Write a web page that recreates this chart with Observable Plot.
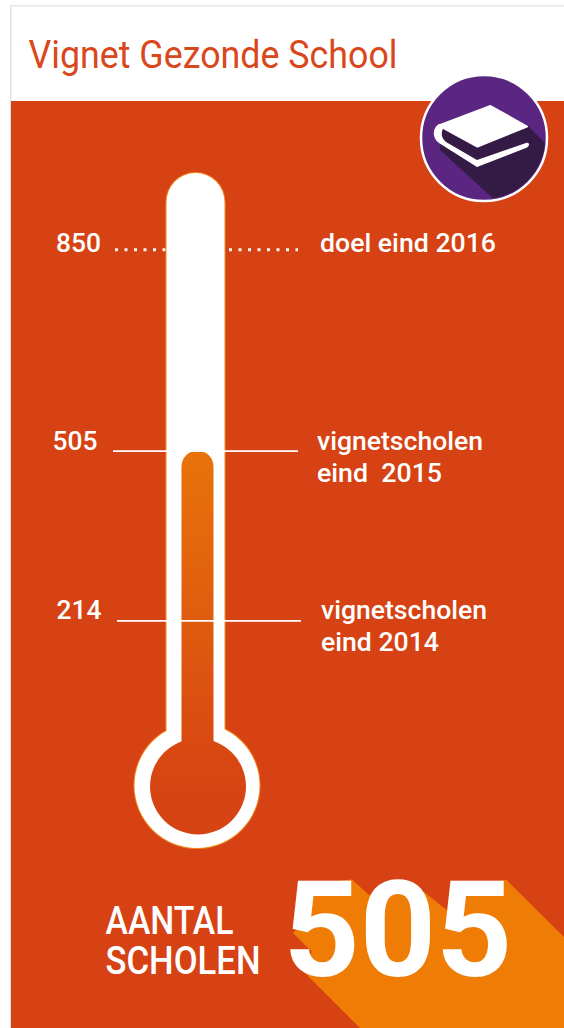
<!DOCTYPE html>
<html>
<head>
<meta charset="utf-8">
<script src="https://cdn.jsdelivr.net/npm/d3@7"></script>
<script src="https://cdn.jsdelivr.net/npm/@observablehq/plot@0.6"></script>
<style>
html,body{margin:0;padding:0;background:#fff;}
svg{display:block;}
</style>
</head>
<body>
<div id="chart"></div>
<script>
const title = "Vignet Gezonde School";
const levelValues = [850, 505, 214];
const levelLabels = ["850", "505", "214"];
const levelNotes = [["doel eind 2016"], ["vignetscholen", "eind  2015"], ["vignetscholen", "eind 2014"]];
const currentValue = 505;
const totalLabel = ["AANTAL", "SCHOLEN"];

const W = 564, H = 1028;
// linear value scale of the thermometer, read from the three marked levels
const pxPerUnit = 0.5835, y850 = 249.3;
const yv = p => 850 - (p - y850) / pxPerUnit;

const bg = "#D64214", amber = "#EF7D05", purple = "#5A2681", dark = "#341B46", white = "#fff";

const rows = levelValues.map((v, i) => ({v, label: levelLabels[i], note: levelNotes[i]}));
const layout = [
  {x1: 115, x2: 298, lx: 100.5, nx: 319.5, base: 251, lineGap: 0},
  {x1: 113, x2: 298, lx: 97, nx: 316.5, base: 449, lineGap: 32},
  {x1: 117, x2: 301, lx: 101, nx: 320.5, base: 618, lineGap: 32}
];

function poly(g, pts, fill) {
  return g.append("path").attr("d", "M" + pts.map(p => p.join(",")).join("L") + "Z").attr("fill", fill);
}

function backdrop() {
  const svg = d3.create("svg:g");
  const defs = svg.append("defs");
  const grad = defs.append("linearGradient").attr("id", "fillGrad").attr("gradientUnits", "userSpaceOnUse")
    .attr("x1", 0).attr("x2", 0).attr("y1", 451).attr("y2", 745);
  grad.append("stop").attr("offset", 0).attr("stop-color", "#E8730A");
  grad.append("stop").attr("offset", 1).attr("stop-color", "#D94A12");
  defs.append("clipPath").attr("id", "badgeClip").append("circle").attr("cx", 484).attr("cy", 138).attr("r", 61);
  const grad2 = defs.append("linearGradient").attr("id", "bulbGrad").attr("x1", 0).attr("x2", 0).attr("y1", 0).attr("y2", 1);
  grad2.append("stop").attr("offset", 0).attr("stop-color", "#D94A12");
  grad2.append("stop").attr("offset", 0.7).attr("stop-color", "#D64314");
  svg.append("rect").attr("x", 10).attr("y", 5).attr("width", W - 10).attr("height", 97).attr("fill", "#fff");
  svg.append("rect").attr("x", 10).attr("y", 5).attr("width", W - 10).attr("height", 1.5).attr("fill", "#E4E6E8");
  svg.append("rect").attr("x", 10).attr("y", 5).attr("width", 1.5).attr("height", H).attr("fill", "#DDE3E8");
  svg.append("rect").attr("x", 11).attr("y", 101).attr("width", W - 11).attr("height", H - 101).attr("fill", bg);
  poly(svg, [[293,933],[300,925],[300,885],[352,879.5],[369,895],[398,885],[424,892],[448,911],[470,890],[506,879.5],[564,937],[564,1028],[360,1028],[300,968],[312,952]], amber);
  return svg.node();
}

function badge() {
  const svg = d3.create("svg:g");
  svg.append("circle").attr("cx", 484).attr("cy", 138).attr("r", 63).attr("fill", purple).attr("stroke", "#fff").attr("stroke-width", 2.5);
  const clip = svg.append("g").attr("clip-path", "url(#badgeClip)");
  poly(clip, [[441,128],[477,148],[528,126],[562,160],[562,205],[497,202],[440,150]], dark);
  poly(svg, [[490.5,106],[527,126.5],[477.5,146.5],[439,125.5]], "#fff")
    .attr("stroke", "#fff").attr("stroke-width", 2).attr("stroke-linejoin", "round");
  svg.append("path")
    .attr("d", "M439,124C432,128 432,138 439,143L477,167L526,148C530,146 530,142 526,143L477,160L446,142C441,138 441,133 443,128Z")
    .attr("fill", "#fff");
  return svg.node();
}

const textBase = {fontFamily: "Roboto", fill: white, textAnchor: "start", lineAnchor: "bottom"};

const noteRows = rows.flatMap((r, i) => r.note.map((t, j) => ({
  t, x: layout[i].nx, y: yv(layout[i].base + j * layout[i].lineGap)
})));

const mercuryCap = 16; // radius of the round top, px

const chart = Plot.plot({
  width: W, height: H,
  marginTop: 0, marginRight: 0, marginBottom: 0, marginLeft: 0,
  style: {background: "transparent", fontFamily: "Roboto"},
  x: {domain: [0, W], range: [0, W], axis: null},
  y: {domain: [yv(H), yv(0)], range: [H, 0], axis: null},
  marks: [
    backdrop,
    // dotted goal line sits behind the tube
    Plot.ruleY([rows[0]], {y: "v", x1: layout[0].x1, x2: layout[0].x2, stroke: white, strokeOpacity: 0.95, strokeWidth: 3, strokeDasharray: "3,6.5"}),
    // thermometer outline
    Plot.dot([0], {x: 196.5, y: yv(785), r: 63.5, fill: "#F08A1E", stroke: "none"}),
    Plot.ruleX([0], {x: 195, y1: yv(202), y2: yv(770), stroke: "#F08A1E", strokeWidth: 60, strokeLinecap: "round"}),
    Plot.dot([0], {x: 196.5, y: yv(785), r: 62.5, fill: white, stroke: "none"}),
    Plot.ruleX([0], {x: 195, y1: yv(202), y2: yv(770), stroke: white, strokeWidth: 58, strokeLinecap: "round"}),
    // mercury: the round cap tops out exactly at the current value
    Plot.ruleX([{v: currentValue}], {x: 197, y1: d => d.v - mercuryCap / pxPerUnit, y2: yv(760), stroke: "url(#fillGrad)", strokeWidth: mercuryCap * 2, strokeLinecap: "round"}),
    Plot.dot([0], {x: 197.5, y: yv(786), r: 48, fill: "url(#bulbGrad)", stroke: "none"}),
    // solid level lines
    Plot.ruleY(rows.slice(1), {y: "v", x1: (d, i) => layout[i + 1].x1, x2: (d, i) => layout[i + 1].x2, stroke: white, strokeWidth: 1.6}),
    // labels
    Plot.text(rows, {...textBase, text: "label", x: (d, i) => layout[i].lx, y: (d, i) => yv(layout[i].base), textAnchor: "end", fontSize: 25, fontWeight: 500}),
    Plot.text(noteRows, {...textBase, text: "t", x: "x", y: "y", fontSize: 25, fontWeight: 500}),
    // header
    Plot.text([title], {...textBase, text: d => d, x: 28, y: yv(67), fill: "#D9481C", fontSize: 38, fontWeight: 400}),
    badge,
    // total
    Plot.text(totalLabel, {...textBase, text: d => d, x: 105, y: (d, i) => yv(933 + i * 40), fontSize: 38, fontWeight: 500}),
    Plot.text([currentValue], {...textBase, text: d => String(d), x: 283, y: yv(975), fontSize: 133, fontWeight: 700})
  ]
});

document.getElementById("chart").appendChild(chart);

// fit the slightly different proportions of the original type
const fits = {
  "Vignet Gezonde School": 369, "AANTAL": 128, "SCHOLEN": 155,
  "doel eind 2016": 176, "vignetscholen": 166, "eind  2015": 125, "eind 2014": 118,
  "850": 45, "505": 45, "214": 45
};
d3.select(chart).selectAll("text").each(function () {
  const t = this.textContent;
  const size = parseFloat(getComputedStyle(this).fontSize);
  if (fits[t] && size < 100) d3.select(this).attr("textLength", fits[t]).attr("lengthAdjust", "spacingAndGlyphs");
});
</script>
</body>
</html>
